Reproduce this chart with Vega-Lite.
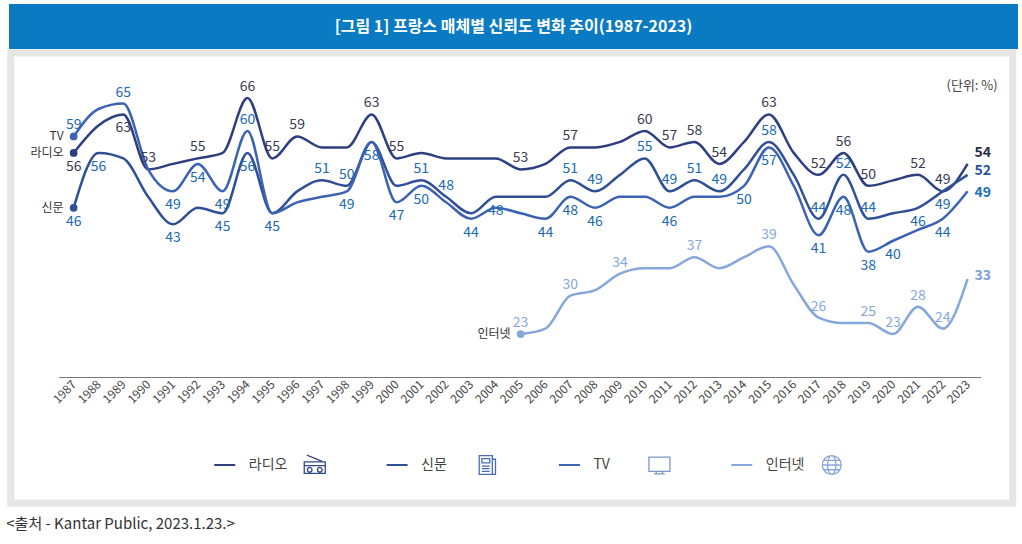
{
  "$schema": "https://vega.github.io/schema/vega-lite/v6.json",
  "background": "white",
  "padding": {"left": 6, "top": 4, "right": 7, "bottom": 0},
  "spacing": 0,
  "center": true,
  "title": {
    "text": "<출처 - Kantar Public, 2023.1.23.>",
    "orient": "bottom",
    "anchor": "start",
    "fontSize": 15,
    "fontWeight": "normal",
    "color": "#333333",
    "offset": 10,
    "dx": -1
  },
  "datasets": {
    "trust": [
      {"series": "라디오", "year": 1987, "value": 56, "label": 1},
      {"series": "라디오", "year": 1988, "value": 61},
      {"series": "라디오", "year": 1989, "value": 63, "label": 1},
      {"series": "라디오", "year": 1990, "value": 53, "label": 1},
      {"series": "라디오", "year": 1991, "value": 54},
      {"series": "라디오", "year": 1992, "value": 55, "label": 1},
      {"series": "라디오", "year": 1993, "value": 56},
      {"series": "라디오", "year": 1994, "value": 66, "label": 1},
      {"series": "라디오", "year": 1995, "value": 55, "label": 1},
      {"series": "라디오", "year": 1996, "value": 59, "label": 1},
      {"series": "라디오", "year": 1997, "value": 57},
      {"series": "라디오", "year": 1998, "value": 57},
      {"series": "라디오", "year": 1999, "value": 63, "label": 1},
      {"series": "라디오", "year": 2000, "value": 55, "label": 1},
      {"series": "라디오", "year": 2001, "value": 56},
      {"series": "라디오", "year": 2002, "value": 55},
      {"series": "라디오", "year": 2003, "value": 55},
      {"series": "라디오", "year": 2004, "value": 55},
      {"series": "라디오", "year": 2005, "value": 53, "label": 1},
      {"series": "라디오", "year": 2006, "value": 54},
      {"series": "라디오", "year": 2007, "value": 57, "label": 1},
      {"series": "라디오", "year": 2008, "value": 57},
      {"series": "라디오", "year": 2009, "value": 58},
      {"series": "라디오", "year": 2010, "value": 60, "label": 1},
      {"series": "라디오", "year": 2011, "value": 57, "label": 1},
      {"series": "라디오", "year": 2012, "value": 58, "label": 1},
      {"series": "라디오", "year": 2013, "value": 54, "label": 1},
      {"series": "라디오", "year": 2014, "value": 58},
      {"series": "라디오", "year": 2015, "value": 63, "label": 1},
      {"series": "라디오", "year": 2016, "value": 56},
      {"series": "라디오", "year": 2017, "value": 52, "label": 1},
      {"series": "라디오", "year": 2018, "value": 56, "label": 1},
      {"series": "라디오", "year": 2019, "value": 50, "label": 1},
      {"series": "라디오", "year": 2020, "value": 51},
      {"series": "라디오", "year": 2021, "value": 52, "label": 1},
      {"series": "라디오", "year": 2022, "value": 49, "label": 1},
      {"series": "라디오", "year": 2023, "value": 54, "label": 1},
      {"series": "신문", "year": 1987, "value": 46, "label": 1},
      {"series": "신문", "year": 1988, "value": 56, "label": 1},
      {"series": "신문", "year": 1989, "value": 55},
      {"series": "신문", "year": 1990, "value": 48},
      {"series": "신문", "year": 1991, "value": 43, "label": 1},
      {"series": "신문", "year": 1992, "value": 46},
      {"series": "신문", "year": 1993, "value": 45, "label": 1},
      {"series": "신문", "year": 1994, "value": 56, "label": 1},
      {"series": "신문", "year": 1995, "value": 45},
      {"series": "신문", "year": 1996, "value": 49},
      {"series": "신문", "year": 1997, "value": 51, "label": 1},
      {"series": "신문", "year": 1998, "value": 50, "label": 1},
      {"series": "신문", "year": 1999, "value": 58},
      {"series": "신문", "year": 2000, "value": 50},
      {"series": "신문", "year": 2001, "value": 51, "label": 1},
      {"series": "신문", "year": 2002, "value": 48, "label": 1},
      {"series": "신문", "year": 2003, "value": 45},
      {"series": "신문", "year": 2004, "value": 48, "label": 1},
      {"series": "신문", "year": 2005, "value": 48},
      {"series": "신문", "year": 2006, "value": 48},
      {"series": "신문", "year": 2007, "value": 51, "label": 1},
      {"series": "신문", "year": 2008, "value": 49, "label": 1},
      {"series": "신문", "year": 2009, "value": 52},
      {"series": "신문", "year": 2010, "value": 55, "label": 1},
      {"series": "신문", "year": 2011, "value": 49, "label": 1},
      {"series": "신문", "year": 2012, "value": 51, "label": 1},
      {"series": "신문", "year": 2013, "value": 49, "label": 1},
      {"series": "신문", "year": 2014, "value": 53},
      {"series": "신문", "year": 2015, "value": 58, "label": 1},
      {"series": "신문", "year": 2016, "value": 52},
      {"series": "신문", "year": 2017, "value": 44, "label": 1},
      {"series": "신문", "year": 2018, "value": 52, "label": 1},
      {"series": "신문", "year": 2019, "value": 44, "label": 1},
      {"series": "신문", "year": 2020, "value": 45},
      {"series": "신문", "year": 2021, "value": 46, "label": 1},
      {"series": "신문", "year": 2022, "value": 49, "label": 1},
      {"series": "신문", "year": 2023, "value": 52, "label": 1},
      {"series": "TV", "year": 1987, "value": 59, "label": 1},
      {"series": "TV", "year": 1988, "value": 64},
      {"series": "TV", "year": 1989, "value": 65, "label": 1},
      {"series": "TV", "year": 1990, "value": 53},
      {"series": "TV", "year": 1991, "value": 49, "label": 1},
      {"series": "TV", "year": 1992, "value": 54, "label": 1},
      {"series": "TV", "year": 1993, "value": 49, "label": 1},
      {"series": "TV", "year": 1994, "value": 60, "label": 1},
      {"series": "TV", "year": 1995, "value": 45, "label": 1},
      {"series": "TV", "year": 1996, "value": 47},
      {"series": "TV", "year": 1997, "value": 48},
      {"series": "TV", "year": 1998, "value": 49, "label": 1},
      {"series": "TV", "year": 1999, "value": 58, "label": 1},
      {"series": "TV", "year": 2000, "value": 47, "label": 1},
      {"series": "TV", "year": 2001, "value": 50, "label": 1},
      {"series": "TV", "year": 2002, "value": 47},
      {"series": "TV", "year": 2003, "value": 44, "label": 1},
      {"series": "TV", "year": 2004, "value": 46},
      {"series": "TV", "year": 2005, "value": 45},
      {"series": "TV", "year": 2006, "value": 44, "label": 1},
      {"series": "TV", "year": 2007, "value": 48, "label": 1},
      {"series": "TV", "year": 2008, "value": 46, "label": 1},
      {"series": "TV", "year": 2009, "value": 48},
      {"series": "TV", "year": 2010, "value": 48},
      {"series": "TV", "year": 2011, "value": 46, "label": 1},
      {"series": "TV", "year": 2012, "value": 48},
      {"series": "TV", "year": 2013, "value": 48},
      {"series": "TV", "year": 2014, "value": 50, "label": 1},
      {"series": "TV", "year": 2015, "value": 57, "label": 1},
      {"series": "TV", "year": 2016, "value": 50},
      {"series": "TV", "year": 2017, "value": 41, "label": 1},
      {"series": "TV", "year": 2018, "value": 48, "label": 1},
      {"series": "TV", "year": 2019, "value": 38, "label": 1},
      {"series": "TV", "year": 2020, "value": 40, "label": 1},
      {"series": "TV", "year": 2021, "value": 42},
      {"series": "TV", "year": 2022, "value": 44, "label": 1},
      {"series": "TV", "year": 2023, "value": 49, "label": 1},
      {"series": "인터넷", "year": 2005, "value": 23, "label": 1},
      {"series": "인터넷", "year": 2006, "value": 24},
      {"series": "인터넷", "year": 2007, "value": 30, "label": 1},
      {"series": "인터넷", "year": 2008, "value": 31},
      {"series": "인터넷", "year": 2009, "value": 34, "label": 1},
      {"series": "인터넷", "year": 2010, "value": 35},
      {"series": "인터넷", "year": 2011, "value": 35},
      {"series": "인터넷", "year": 2012, "value": 37, "label": 1},
      {"series": "인터넷", "year": 2013, "value": 35},
      {"series": "인터넷", "year": 2014, "value": 37},
      {"series": "인터넷", "year": 2015, "value": 39, "label": 1},
      {"series": "인터넷", "year": 2016, "value": 32},
      {"series": "인터넷", "year": 2017, "value": 26, "label": 1},
      {"series": "인터넷", "year": 2018, "value": 25},
      {"series": "인터넷", "year": 2019, "value": 25, "label": 1},
      {"series": "인터넷", "year": 2020, "value": 23, "label": 1},
      {"series": "인터넷", "year": 2021, "value": 28, "label": 1},
      {"series": "인터넷", "year": 2022, "value": 24, "label": 1},
      {"series": "인터넷", "year": 2023, "value": 33, "label": 1}
    ],
    "legend": [
      {"series": "라디오"},
      {"series": "신문"},
      {"series": "TV"},
      {"series": "인터넷"}
    ]
  },
  "vconcat": [
    {
      "width": 1009,
      "height": 45,
      "view": {"fill": "#0a7bc3", "stroke": null},
      "data": {"values": [{"title": "[그림 1] 프랑스 매체별 신뢰도 변화 추이(1987-2023)"}]},
      "mark": {"type": "text", "color": "white", "fontSize": 16, "fontWeight": "bold", "baseline": "middle"},
      "encoding": {"text": {"field": "title"}}
    },
    {
      "width": 1002,
      "height": 450,
      "view": {"fill": "white", "stroke": "#e6e6e6", "strokeWidth": 7},
      "title": {
        "text": "(단위: %)",
        "orient": "top",
        "anchor": "end",
        "offset": -40,
        "dx": -15,
        "fontSize": 13,
        "fontWeight": "normal",
        "color": "#444444"
      },
      "layer": [
        {
          "data": {"name": "trust"},
          "encoding": {
            "x": {
              "field": "year",
              "type": "quantitative",
              "scale": {"domain": [1986.4, 2023.53], "range": [48, 970], "nice": false, "zero": false},
              "axis": {
                "values": [1987, 1988, 1989, 1990, 1991, 1992, 1993, 1994, 1995, 1996, 1997, 1998, 1999, 2000, 2001, 2002, 2003, 2004, 2005, 2006, 2007, 2008, 2009, 2010, 2011, 2012, 2013, 2014, 2015, 2016, 2017, 2018, 2019, 2020, 2021, 2022, 2023],
                "format": "d",
                "title": null,
                "offset": -126,
                "labelAngle": -45,
                "labelAlign": "right",
                "labelBaseline": "middle",
                "labelPadding": 5,
                "labelFontSize": 12,
                "labelColor": "#444444",
                "labelOverlap": false,
                "labelFlush": false,
                "ticks": false,
                "grid": false,
                "domainColor": "#777777",
                "domainWidth": 1.2
              }
            },
            "y": {
              "field": "value",
              "type": "quantitative",
              "scale": {"domain": [-7.77, 74.2], "nice": false, "zero": false},
              "axis": null
            }
          },
          "layer": [
            {
              "mark": {"type": "line", "interpolate": "monotone", "strokeWidth": 2.5},
              "encoding": {
                "color": {
                  "field": "series",
                  "type": "nominal",
                  "scale": {"domain": ["라디오", "신문", "TV", "인터넷"], "range": ["#2d3f80", "#2f4f97", "#3c63b3", "#86a7da"]},
                  "legend": null
                },
                "order": {"field": "year"}
              }
            },
            {
              "transform": [{"filter": "datum.year == 1987 || (datum.series == '인터넷' && datum.year == 2005)"}],
              "mark": {"type": "circle", "size": 60, "opacity": 1},
              "encoding": {"color": {"field": "series", "type": "nominal", "legend": null}}
            },
            {
              "transform": [{"filter": "datum.year == 1987 || (datum.series == '인터넷' && datum.year == 2005)"}],
              "mark": {"type": "text", "align": "right", "baseline": "middle", "dx": -10, "fontSize": 12, "color": "#333333"},
              "encoding": {"text": {"field": "series"}}
            },
            {
              "transform": [
                {"filter": "datum.label == 1 && datum.year != 2023"},
                {"filter": "!((datum.series == '라디오' && indexof([1987, 1989], datum.year) >= 0) || (datum.series == 'TV' && indexof([1987, 1989, 1994], datum.year) < 0) || (datum.series == '신문' && indexof([1987, 1988, 1991, 1993, 1994, 2004, 2021, 2022], datum.year) >= 0))"}
              ],
              "mark": {"type": "text", "baseline": "middle", "dy": -11, "fontSize": 14},
              "encoding": {
                "text": {"field": "value", "type": "quantitative", "format": "d"},
                "fill": {
                  "field": "series",
                  "type": "nominal",
                  "scale": {"domain": ["라디오", "신문", "TV", "인터넷"], "range": ["#3a3a52", "#2069b5", "#2069b5", "#86a7da"]},
                  "legend": null
                }
              }
            },
            {
              "transform": [
                {"filter": "datum.label == 1 && datum.year != 2023"},
                {"filter": "(datum.series == '라디오' && indexof([1987, 1989], datum.year) >= 0) || (datum.series == 'TV' && indexof([1987, 1989, 1994], datum.year) < 0) || (datum.series == '신문' && indexof([1987, 1988, 1991, 1993, 1994, 2004, 2021, 2022], datum.year) >= 0)"}
              ],
              "mark": {"type": "text", "baseline": "middle", "dy": 14, "fontSize": 14},
              "encoding": {
                "text": {"field": "value", "type": "quantitative", "format": "d"},
                "fill": {"field": "series", "type": "nominal", "legend": null}
              }
            },
            {
              "transform": [{"filter": "datum.year == 2023 && datum.series == '라디오'"}],
              "mark": {"type": "text", "align": "left", "baseline": "middle", "dx": 7, "dy": -11, "fontSize": 14, "fontWeight": "bold", "color": "#2b2b45"},
              "encoding": {"text": {"field": "value", "type": "quantitative", "format": "d"}}
            },
            {
              "transform": [{"filter": "datum.year == 2023 && datum.series == '신문'"}],
              "mark": {"type": "text", "align": "left", "baseline": "middle", "dx": 7, "dy": -4, "fontSize": 14, "fontWeight": "bold", "color": "#2b4f9e"},
              "encoding": {"text": {"field": "value", "type": "quantitative", "format": "d"}}
            },
            {
              "transform": [{"filter": "datum.year == 2023 && datum.series == 'TV'"}],
              "mark": {"type": "text", "align": "left", "baseline": "middle", "dx": 7, "dy": 2, "fontSize": 14, "fontWeight": "bold", "color": "#1a6fc0"},
              "encoding": {"text": {"field": "value", "type": "quantitative", "format": "d"}}
            },
            {
              "transform": [{"filter": "datum.year == 2023 && datum.series == '인터넷'"}],
              "mark": {"type": "text", "align": "left", "baseline": "middle", "dx": 7, "dy": -3, "fontSize": 14, "fontWeight": "bold", "color": "#7fa0d6"},
              "encoding": {"text": {"field": "value", "type": "quantitative", "format": "d"}}
            }
          ]
        },
        {
          "data": {"name": "legend"},
          "encoding": {
            "x": {
              "field": "series",
              "type": "nominal",
              "scale": {"type": "point", "domain": ["라디오", "신문", "TV", "인터넷"], "range": [238, 755], "padding": 0},
              "axis": null
            },
            "y": {"datum": -0.85, "type": "quantitative"}
          },
          "layer": [
            {
              "mark": {"type": "point", "shape": "M-1,0L1,0", "filled": false, "size": 441, "strokeWidth": 2, "xOffset": -24, "opacity": 1},
              "encoding": {"color": {"field": "series", "type": "nominal", "legend": null}}
            },
            {
              "mark": {"type": "text", "align": "left", "baseline": "middle", "fontSize": 14, "color": "#444444"},
              "encoding": {"text": {"field": "series"}}
            },
            {
              "mark": {"type": "point", "filled": false, "size": 441, "strokeWidth": 1.3, "xOffset": 66, "opacity": 1},
              "encoding": {
                "stroke": {
                  "field": "series",
                  "type": "nominal",
                  "scale": {"domain": ["라디오", "신문", "TV", "인터넷"], "range": ["#34488a", "#4a6cb5", "#7d97c9", "#89a6d8"]},
                  "legend": null
                },
                "shape": {
                  "field": "series",
                  "type": "nominal",
                  "scale": {
                    "domain": ["라디오", "신문", "TV", "인터넷"],
                    "range": [
                      "M-1,-0.3L1,-0.3L1,0.8L-1,0.8Z M-0.75,-0.95L0.7,-0.35 M-1,0.05L1,0.05 M-0.7,0.45A0.22,0.22 0 1,0 -0.26,0.45A0.22,0.22 0 1,0 -0.7,0.45Z M0.26,0.45A0.22,0.22 0 1,0 0.7,0.45A0.22,0.22 0 1,0 0.26,0.45Z",
                      "M-0.75,-0.9L0.5,-0.9L0.5,0.9L-0.75,0.9Z M0.5,-0.55L0.8,-0.55L0.8,0.9L0.5,0.9 M-0.5,-0.6L0.25,-0.6L0.25,-0.2L-0.5,-0.2Z M-0.5,0.1L0.25,0.1 M-0.5,0.35L0.25,0.35 M-0.5,0.6L0.25,0.6",
                      "M-1,-0.75L1,-0.75L1,0.6L-1,0.6Z M-0.3,0.6L-0.3,0.85 M0.3,0.6L0.3,0.85 M-0.5,0.85L0.5,0.85",
                      "M-0.9,0A0.9,0.9 0 1,0 0.9,0A0.9,0.9 0 1,0 -0.9,0Z M-0.9,0L0.9,0 M0,-0.9A0.4,0.9 0 1,0 0,0.9A0.4,0.9 0 1,0 0,-0.9Z M-0.75,-0.45L0.75,-0.45 M-0.75,0.45L0.75,0.45"
                    ]
                  },
                  "legend": null
                }
              }
            }
          ]
        }
      ],
      "resolve": {"scale": {"x": "independent"}}
    }
  ],
  "config": {
    "font": "Noto Sans CJK KR",
    "view": {"stroke": null}
  }
}
